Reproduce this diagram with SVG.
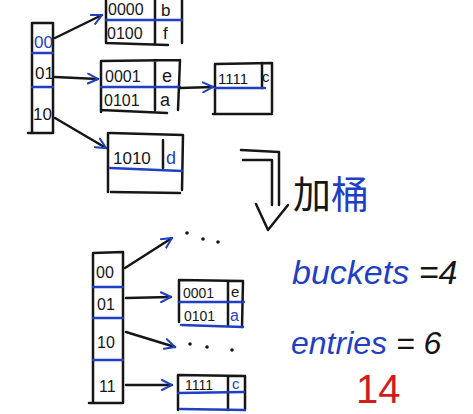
<svg xmlns="http://www.w3.org/2000/svg" width="473" height="414" viewBox="0 0 473 414">
<style>
.k{fill:none;stroke:#161616;stroke-width:2.5;stroke-linecap:round;stroke-linejoin:round}
.b{fill:none;stroke:#1f3fc4;stroke-width:2.3;stroke-linecap:round}
.t{font-family:"Liberation Sans",sans-serif;fill:#161616}
.tb{font-family:"Liberation Sans",sans-serif;fill:#1f3fc4}
.d{fill:#161616}
</style>
<defs>
<marker id="ah" viewBox="0 0 12 12" refX="11" refY="6" markerWidth="12" markerHeight="12" markerUnits="userSpaceOnUse" orient="auto">
<path d="M1,1 L11,6 L1,11" fill="none" stroke="#1f3fc4" stroke-width="2" stroke-linecap="round"/>
</marker>
</defs>
<rect width="473" height="414" fill="#ffffff"/>

<g id="dir-top">
<path class="k" d="M32,23 L53,23 M32,23 L32,133 M53,23 L53,133 M28,133 L53,133"/>
<path class="b" d="M32,53 L53,53 M32,87 L53,87"/>
<text class="tb" x="34" y="48" font-size="17">00</text>
<text class="t" x="35" y="79" font-size="17">01</text>
<text class="t" x="33" y="120" font-size="17">10</text>
</g>

<g id="bucket-b-f">
<path class="k" d="M106,0 L106,42 M182,0 L182,43 M155,0 L155,43 M106,43 L168,45"/>
<path class="b" d="M106,20 L182,20"/>
<text class="t" x="108" y="15" font-size="16">0000</text>
<text class="t" x="161" y="16" font-size="17">b</text>
<text class="t" x="107" y="39" font-size="16">0100</text>
<text class="t" x="163" y="39" font-size="17">f</text>
</g>

<g id="bucket-e-a">
<path class="k" d="M101,61 L180,60 M101,61 L101,112 M180,60 L178,110 M155,60 L155,110 M101,110 L167,113"/>
<path class="b" d="M101,87 L180,87"/>
<text class="t" x="105" y="82" font-size="16">0001</text>
<text class="t" x="162" y="82" font-size="18">e</text>
<text class="t" x="104" y="106" font-size="16">0101</text>
<text class="t" x="160" y="106" font-size="18">a</text>
</g>

<g id="bucket-c">
<path class="k" d="M215,64 L272,63 M215,64 L215,112 M272,63 L272,112 M213,114 L272,114 M262,63 L262,88"/>
<path class="b" d="M215,88 L265,88"/>
<text class="t" x="218" y="84" font-size="15">1111</text>
<text class="t" x="262" y="82" font-size="15">c</text>
</g>

<g id="bucket-d">
<path class="k" d="M110,133 L183,135 M108,133 L108,192 M183,135 L182,190 M163,140 L163,168 M111,192 L180,193"/>
<path class="b" d="M110,168 L182,171"/>
<text class="t" x="113" y="164" font-size="17">1010</text>
<text class="tb" x="166" y="164" font-size="18">d</text>
</g>

<g id="dir-bottom">
<path class="k" d="M93,253 L123,252 M93,253 L93,402 M123,252 L123,403 M89,403 L123,403"/>
<path class="b" d="M93,287 L123,287 M93,318 L123,318 M93,360 L123,360"/>
<text class="t" x="96" y="278" font-size="16">00</text>
<text class="t" x="97" y="310" font-size="16">01</text>
<text class="t" x="97" y="348" font-size="16">10</text>
<text class="t" x="99" y="392" font-size="16">11</text>
</g>

<g id="bucket-bottom-e-a">
<path class="k" d="M180,280 L243,281 M179,280 L179,322 M243,281 L242,327 M228,282 L228,325"/>
<path class="b" d="M179,302 L244,302 M181,325 L243,327"/>
<text class="t" x="183" y="298" font-size="14">0001</text>
<text class="t" x="231" y="297" font-size="15">e</text>
<text class="t" x="184" y="321" font-size="14">0101</text>
<text class="tb" x="230" y="321" font-size="16">a</text>
</g>

<g id="bucket-bottom-c">
<path class="k" d="M178,375 L245,376 M178,375 L178,410 M245,376 L245,410 M228,376 L228,410"/>
<path class="b" d="M178,393 L244,392 M180,409 L245,410"/>
<text class="t" x="185" y="390" font-size="14">1111</text>
<text class="tb" x="232" y="389" font-size="15">c</text>
</g>

<g id="dots-top">
<circle class="d" cx="187" cy="233" r="1.8"/><circle class="d" cx="203" cy="239" r="1.8"/><circle class="d" cx="218" cy="242" r="1.8"/>
</g>
<g id="dots-bottom">
<circle class="d" cx="190" cy="344" r="1.8"/><circle class="d" cx="207" cy="347" r="1.8"/><circle class="d" cx="232" cy="350" r="1.8"/>
</g>

<g id="connectors">
<path class="k" d="M55,38 L102,15" marker-end="url(#ah)"/>
<path class="k" d="M55,77 L98,79" marker-end="url(#ah)"/>
<path class="k" d="M55,118 L106,148" marker-end="url(#ah)"/>
<path class="k" d="M180,88 L213,87" marker-end="url(#ah)"/>
<path class="k" d="M125,268 L172,238" marker-end="url(#ah)"/>
<path class="k" d="M126,298 L171,297" marker-end="url(#ah)"/>
<path class="k" d="M126,332 L175,347" marker-end="url(#ah)"/>
<path class="k" d="M126,385 L172,385" marker-end="url(#ah)"/>
</g>

<g id="big-arrow">
<path class="k" d="M241,150 L279,152 L279,205 M243,160 L272,160 L272,205 M256,204 L268,230 L288,205" stroke-width="2.8"/>
</g>
<g id="labels">
<text class="t" x="293" y="208" font-size="38" style="font-family:'Noto Sans CJK SC',sans-serif"><tspan>加</tspan><tspan fill="#1f3fc4">桶</tspan></text>
<text x="292" y="284" font-size="34" style="font-family:'Liberation Sans',sans-serif" font-style="italic"><tspan fill="#1f3fc4">buckets</tspan><tspan fill="#161616"> =4</tspan></text>
<text x="291" y="354" font-size="32" style="font-family:'Liberation Sans',sans-serif" font-style="italic"><tspan fill="#1f3fc4">entries</tspan><tspan fill="#161616"> = 6</tspan></text>
<text x="356" y="403" font-size="40" fill="#d41a1a" style="font-family:'Liberation Sans',sans-serif">14</text>
</g>
</svg>
